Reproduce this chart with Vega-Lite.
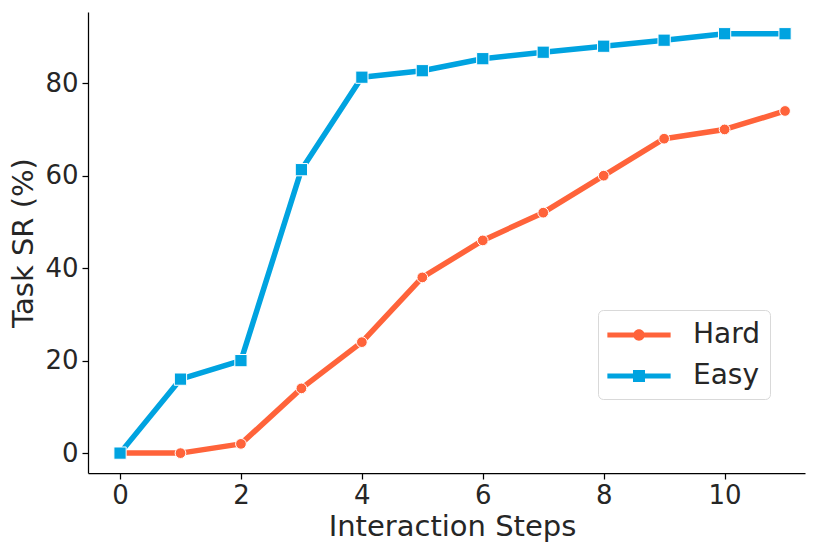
{
  "$schema": "https://vega.github.io/schema/vega-lite/v6.json",
  "autosize": "none",
  "width": 717,
  "height": 461,
  "padding": {"left": 88, "top": 12, "right": 25, "bottom": 81},
  "background": "white",
  "config": {
    "view": {"stroke": null},
    "font": "DejaVu Sans",
    "axis": {
      "domainColor": "#000000",
      "domainWidth": 1.25,
      "tickColor": "#000000",
      "tickWidth": 1.25,
      "tickSize": 6,
      "labelFont": "DejaVu Sans",
      "labelFontSize": 26,
      "labelColor": "#262626",
      "titleFont": "DejaVu Sans",
      "titleFontSize": 29,
      "titleFontWeight": "normal",
      "titleColor": "#262626",
      "grid": false
    }
  },
  "data": {
    "values": [
      {"step": 0, "level": "Hard", "sr": 0},
      {"step": 1, "level": "Hard", "sr": 0},
      {"step": 2, "level": "Hard", "sr": 2},
      {"step": 3, "level": "Hard", "sr": 14},
      {"step": 4, "level": "Hard", "sr": 24},
      {"step": 5, "level": "Hard", "sr": 38},
      {"step": 6, "level": "Hard", "sr": 46},
      {"step": 7, "level": "Hard", "sr": 52},
      {"step": 8, "level": "Hard", "sr": 60},
      {"step": 9, "level": "Hard", "sr": 68},
      {"step": 10, "level": "Hard", "sr": 70},
      {"step": 11, "level": "Hard", "sr": 74},
      {"step": 0, "level": "Easy", "sr": 0},
      {"step": 1, "level": "Easy", "sr": 16},
      {"step": 2, "level": "Easy", "sr": 20},
      {"step": 3, "level": "Easy", "sr": 61.3},
      {"step": 4, "level": "Easy", "sr": 81.3},
      {"step": 5, "level": "Easy", "sr": 82.7},
      {"step": 6, "level": "Easy", "sr": 85.3},
      {"step": 7, "level": "Easy", "sr": 86.7},
      {"step": 8, "level": "Easy", "sr": 88},
      {"step": 9, "level": "Easy", "sr": 89.3},
      {"step": 10, "level": "Easy", "sr": 90.7},
      {"step": 11, "level": "Easy", "sr": 90.7}
    ]
  },
  "encoding": {
    "x": {
      "field": "step", "type": "quantitative",
      "scale": {"domain": [-0.53, 11.33], "nice": false, "zero": false},
      "axis": {"values": [0, 2, 4, 6, 8, 10], "title": "Interaction Steps", "labelPadding": 3, "titlePadding": 4, "titleX": 364}
    },
    "y": {
      "field": "sr", "type": "quantitative",
      "scale": {"domain": [-4.3, 95.4], "nice": false, "zero": false},
      "axis": {"values": [0, 20, 40, 60, 80], "title": "Task SR (%)", "labelPadding": 4, "titlePadding": 6}
    },
    "color": {
      "field": "level", "type": "nominal",
      "scale": {"domain": ["Hard", "Easy"], "range": ["#FF633A", "#00A3E0"]},
      "legend": {
        "title": null,
        "orient": "none",
        "legendX": 510,
        "legendY": 298,
        "labelFont": "DejaVu Sans",
        "labelFontSize": 28,
        "labelColor": "#262626",
        "symbolSize": 1000,
        "symbolOffset": 16,
        "labelOffset": 38,
        "rowPadding": 11,
        "padding": 9,
        "strokeColor": "#d9d9d9",
        "cornerRadius": 5,
        "fillColor": "white",
        "symbolStrokeWidth": 0,
        "encode": {
          "symbols": {
            "update": {
              "shape": {"signal": "datum.value === 'Hard' ? 'M-2,-0.16H2V0.16H-2Z M-0.36,0A0.36,0.36 0 1,1 0.36,0A0.36,0.36 0 1,1 -0.36,0Z' : 'M-2,-0.16H2V0.16H-2Z M-0.38,-0.38H0.38V0.38H-0.38Z'"},
              "fill": {"signal": "datum.value === 'Hard' ? '#FF633A' : '#00A3E0'"},
              "strokeWidth": {"value": 0},
              "opacity": {"value": 1}
            }
          }
        }
      }
    }
  },
  "layer": [
    {
      "mark": {"type": "line", "strokeWidth": 5.5, "strokeCap": "round", "strokeJoin": "round"}
    },
    {
      "transform": [{"filter": "datum.level === 'Hard'"}],
      "mark": {"type": "point", "shape": "circle", "filled": true, "opacity": 1, "stroke": "white", "strokeWidth": 1, "size": 115}
    },
    {
      "transform": [{"filter": "datum.level === 'Easy'"}],
      "mark": {"type": "point", "shape": "square", "filled": true, "opacity": 1, "stroke": "white", "strokeWidth": 1, "size": 150}
    }
  ]
}
